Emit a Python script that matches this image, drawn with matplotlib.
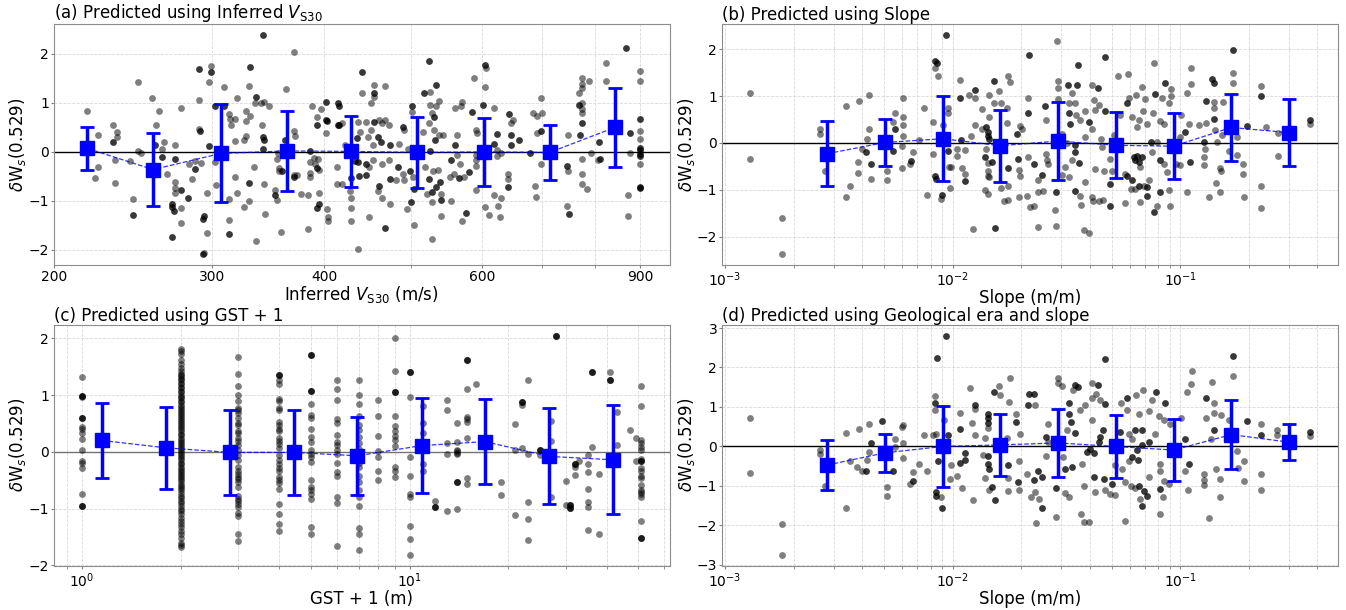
#!/usr/bin/env python3
"""4パネル残差プロット（δWs vs サイト指標）"""

import numpy as np
import matplotlib

matplotlib.use("Agg")
import matplotlib.pyplot as plt
from matplotlib.ticker import FixedLocator, FuncFormatter, MultipleLocator, NullFormatter

# ---- (a) Inferred VS30 ----
a_vs30 = [217.5, 224, 224, 222, 233, 235, 235, 234, 234, 248, 245, 248, 250, 243, 257, 262, 260, 265, 264, 273,
          267, 273, 273, 273, 277, 277, 277, 283, 287, 285, 290, 290, 292, 296, 296, 294, 299, 298, 302, 303,
          309, 313, 314, 315, 318, 318, 313, 313, 318, 320, 320, 326, 327, 327, 326, 327, 330, 331, 335, 336,
          343, 344, 334, 330, 340, 343, 347, 341, 370, 363, 355, 354, 356, 356, 353, 354, 358, 370, 371, 370,
          373, 377, 386, 386, 386, 390, 391, 394, 395, 395, 403, 404, 404, 384, 384, 388, 393, 397, 402, 413,
          413, 419, 419, 422, 427, 428, 428, 429, 436, 441, 436, 438,
          455, 455, 467, 451, 445, 460, 464, 468, 472, 451, 447, 453, 449, 453, 464, 472, 459, 464, 449, 474,
          481, 489, 491, 485, 491, 496, 501, 502, 495, 504, 524, 524, 527, 533, 537, 523, 515, 530, 537, 543,
          518, 529, 536, 521, 539, 527, 540, 527, 552, 553, 560, 569, 568, 562, 562, 567, 558, 572, 587, 590,
          592, 590, 590, 590, 590, 570, 605, 604, 618, 623, 623, 629, 604, 611, 618, 624, 630, 628, 649, 645,
          640, 640, 683, 690, 700, 697, 690, 698, 686, 688, 747, 747, 745, 769, 775, 775, 775, 775, 775, 775,
          774, 774, 774, 785, 789, 792, 807, 823, 823, 871, 871, 875, 900, 900, 900, 900, 900]
a_dws = [0.84, 0.34, -0.31, -0.53, 0.55, 0.41, 0.31, -0.17, -0.64, 1.42, -0.97, 0.01, -0.03, -0.19, 1.09, 0.83, 0.55,
         0.2, 0.05, 0.15, -0.46, -0.61, -0.73, -0.84, -1.15, -1.46, 0.89, -0.24, -0.18, -0.56, 1.05, 0.46, -0.23,
         -0.84, -1.66, -2.06, 1.75, 1.43, -0.21, -0.67, 1.32, 0.78, 0.67, 0.54, 0.67, 0.23, -0.97, -1.39, -0.52,
         1.1, -0.84, -1.12, 0.84, 0.64, 0.24, 0.32, 1.34, 0.73, 1.0, -1.82, -0.65, -1.26, -0.31, -1.0, 1.0, 1.02,
         0.94, 0.55, 2.04, 1.29, -0.03, -0.14, -0.32, -0.39, -0.78, -0.98, -1.63, 0.43, 0.33, -0.48, -0.48, -0.86,
         -0.21, -0.51, -0.43, -0.12, -0.25, -0.14, -0.36, -0.84, -1.17, -1.32, -1.4, -0.87, -1.58, 0.94, 0.71,
         0.87, 0.39, -0.3, -0.65, -0.66, 0.58, 0.14, -0.79, -0.94, -1.15, -1.41, -1.98, 1.2, 0.62, 0.4,
         1.36, 1.12, 1.34, 0.99, 0.62, 0.65, 0.58, 0.65, 0.55, 0.45, 0.31, 0.14, -0.31, -0.17, -0.24, -0.17, -0.79,
         -0.93, -1.32, -1.06, -0.58, -0.45, -0.58, 0.17, 0.45, 0.06, 0.82, -0.51, -1.17, -1.5, 1.22, 0.96, 0.79,
         0.93, 1.03, 0.58, 0.41, 0.45, 0.34, 0.34, -0.31, -0.38, -0.36, -0.86, -0.86, -1.02, -1.31, -1.77, -0.51,
         -1.01, 0.89, 1.02, 0.94, 0.34, -0.07, -0.24, -0.45, -0.51, 1.5, 0.45, 0.38, -0.07, -0.17, -0.29, -0.77,
         -1.4, 1.71, 1.32, 0.89, 0.03, -0.09, -0.03, -1.13, -1.28, -0.88, -1.1, -0.94, -1.32, 0.65, 0.58, -0.46,
         -0.56, 0.8, 0.73, 0.79, 1.11, 0.38, -0.24, -0.7, -0.92, 0.34, -0.39, -1.11, 1.2, 1.5, 1.39, 1.3, 0.99,
         0.87, 0.79, -0.15, -0.46, -0.66, -0.75, 1.45, -0.03, -0.17, 1.82, 1.45, -0.87, -1.3, -0.03, 1.65, 1.45,
         0.43, 0.27, -0.24]
# 重なって濃く見える点
a_vs30_dup = [233, 245, 259, 264, 273, 277, 271, 271, 272, 271, 282, 287, 290, 291, 294, 293, 293, 299, 298, 302,
              309, 313, 331, 336, 342, 342, 343, 342, 330, 362, 359, 353, 370, 386, 393, 395, 393, 393, 402, 402,
              403, 414, 415, 414, 416, 441, 435, 433, 436, 437, 429,
              455, 455, 459, 463, 474, 445, 445, 474, 460, 468, 483, 489, 501, 498, 500, 504, 523, 517, 533, 530,
              532, 525, 523, 538, 533, 527, 539, 553, 560, 565, 580, 585, 576, 604, 601, 623, 618, 643, 646, 646,
              659, 641, 678, 698, 745, 750, 775, 769, 771, 809, 811, 867, 876, 900, 900, 900, 900, 900, 900, 900]
a_dws_dup = [0.2, -1.28, 0.14, -0.1, -0.14, -0.77, -1.07, -1.13, -1.21, -1.73, -0.94, -0.35, 1.69, 0.43, -1.31,
             -1.36, -2.09, 1.63, 0.13, 0.93, 0.93, -1.68, 1.73, 1.13, 2.39, 0.31, 0.25, 0.05, -0.64, 0.24, -0.38,
             -0.88, -0.52, 0.02, -0.32, -1.06, -1.14, 0.54, 1.02, 0.65, 0.63, 1.0, 0.94, 0.54, 0.54, 1.63, 0.29,
             -0.19, -0.21, -0.5, -0.54,
             1.21, 0.62, 0.31, 0.21, 0.14, -0.24, -0.48, -0.55, -0.69, -1.56, -0.31, 0.51, 0.93, -0.38, -1.03,
             -0.75, 1.85, 1.2, 1.37, 0.72, 0.24, 0.01, -0.55, -0.62, -0.72, -0.82, -0.98, -0.17, 0.14, -0.53,
             -0.41, 0.82, -1.25, 1.78, 0.95, 0.36, 0.17, 0.78, 0.34, 0.14, 0.25, -0.71, -0.03, 0.43, -0.29, -1.26,
             0.6, 0.96, 0.35, 0.2, -0.14, 2.11, 0.38, 0.67, 0.09, 0.03, -0.05, -0.09, -0.71, -0.73]
a_bin_vs30 = [218, 258, 307, 364, 429, 508, 602, 713, 843]
a_bin_mean = [0.07, -0.36, -0.03, 0.02, 0.01, -0.01, 0.0, -0.01, 0.5]
a_bin_std = [0.44, 0.75, 1.0, 0.82, 0.73, 0.73, 0.69, 0.56, 0.8]

# ---- (b) Slope（log10で読み取り）----
b_logslope = [-2.891, -2.891, -2.75, -2.75, -2.584, -2.584, -2.562, -2.47, -2.41, -2.367, -2.468, -2.451, -2.417,
              -2.417, -2.397, -2.377, -2.367, -2.358, -2.288, -2.288, -2.264, -2.254, -2.223, -2.223, -2.216,
              -2.216, -2.216, -2.216, -2.187, -2.173, -2.147, -2.125, -2.113, -2.085, -2.079, -2.064, -2.085,
              -2.05, -2.044, -2.02, -2.02, -2.014, -2.006, -2.012, -1.967, -1.979, -1.979, -1.959, -1.945, -1.944,
              -1.927, -1.903, -1.872, -1.903, -1.918, -1.872, -1.853, -1.843, -1.845, -1.843, -1.838, -1.846,
              -1.856, -1.841, -1.816, -1.797, -1.788, -1.838, -1.762, -1.762, -1.758, -1.747, -1.787, -1.758,
              -1.772, -1.758, -1.912, -1.709, -1.702, -1.708, -1.703, -1.696, -1.67, -1.67, -1.672, -1.658,
              -1.539, -1.537, -1.537, -1.476, -1.59, -1.535, -1.49, -1.461, -1.458, -1.439, -1.417, -1.388, -1.38,
              -1.373, -1.358, -1.388, -1.417, -1.476, -1.498, -1.52, -1.505, -1.49, -1.52, -1.59, -1.586, -1.579,
              -1.623, -1.601, -1.626, -1.64, -1.626, -1.549, -1.546, -1.439, -1.436, -1.417, -1.424, -1.402,
              -1.388, -1.373, -1.383, -1.339, -1.358, -1.336, -1.344, -1.347, -1.3, -1.307, -1.292, -1.273,
              -1.229, -1.263, -1.226, -1.194, -1.211, -1.189, -1.182, -1.241, -1.175, -1.16, -1.138, -1.197,
              -1.216, -1.241, -1.175, -1.101, -1.167, -1.153, -1.163, -1.145, -1.113, -1.079, -1.05, -1.038,
              -1.038, -1.12, -1.087, -1.072, -1.101, -1.123, -1.072, -1.057, -1.05, -1.045, -1.02, -0.999, -0.994,
              -0.999, -0.969, -0.95, -0.95, -0.969, -0.962, -0.918, -0.896, -0.896, -0.891, -0.888, -0.874, -0.852,
              -0.852, -0.847, -0.837, -0.825, -0.822, -0.84, -0.825, -0.815, -0.812, -0.767, -0.767, -0.778,
              -0.786, -0.749, -0.749, -0.722, -0.722, -0.719, -0.646, -0.624, -0.646, -0.646, -0.568, -0.568,
              -0.429]
b_dws = [1.07, -0.34, -1.61, -2.38, 0.3, 0.19, -0.59, 0.79, 0.89, 1.03, -1.15, -0.93, -0.41, -0.64, -0.12, 0.09,
         0.3, -0.77, -0.59, -0.8, 0.44, 0.63, -0.07, -0.54, 0.97, 0.56, 0.39, 0.15, -0.44, -0.19, 0.06, 0.74, -1.11,
         0.44, 1.61, 1.43, -0.23, -1.19, 0.38, 0.75, 0.64, -0.52, -0.52, -0.96, 1.35, -0.12, -0.27, -0.53, -0.66,
         -0.16, 1.02, 0.97, 0.73, 0.38, 0.14, 0.29, -0.14, -0.43, -0.59, -0.7, -0.73, -1.1, -1.0, 1.02, 0.85, 1.11,
         0.85, 0.56, 0.74, 0.43, 1.43, 1.31, -0.97, -0.93, -1.25, -1.22, -1.84, -0.57, -0.7, -1.16, 0.37, 0.29,
         0.95, -0.3, -1.13, -1.37,
         2.18, 1.33, 1.17, 1.06, 0.49, 0.93, 0.85, 0.85, 0.59, 0.49, 0.69, 1.24, 0.92, 0.7, 0.81, 0.29, 0.13,
         -0.37, -0.01, 0.2, -0.52, -0.72, -0.69, -0.23, -0.37, -0.44, -0.8, -1.02, -1.05, -1.34, -1.79, -1.44,
         -1.77, -1.13, -1.33, -0.84, -1.87, -1.92, -1.16, -0.55, -1.24, -1.21, -1.24, -0.59, -0.09, 0.09, -0.59,
         -0.34, 0.16, 1.42, 1.47, 0.59, 0.97, 1.02, 0.56, 0.34, 0.49, -0.66, -0.52, -0.91, -0.8, -0.98, -0.98,
         -1.28, -1.27, -1.34, 1.2, 0.93, 0.69, 0.41, 1.7, 0.95, 0.86, 1.15, 1.0, 0.63, 0.47, 0.41, 0.02, -0.19,
         -0.44, -0.62, -1.0, -1.34, -0.44, -0.48, 0.59, 0.13, 1.07, 1.61, 1.25, -1.05, 0.41, 0.38, -0.3, -0.48,
         -0.14, 0.43, -1.16, 0.87, 0.74, 0.27, 0.02, -0.53, -0.6, -0.86, -1.05, 0.16, 0.87, 1.5, 1.29, 0.27,
         -0.18, 0.13, -0.25, -0.46, -0.66, -1.15, 1.22, 0.34, -0.93, -1.38, 0.21, -0.27, 0.41]
b_logslope_dup = [-2.379, -2.36, -2.264, -2.254, -2.182, -2.078, -2.07, -2.076, -2.073, -2.047, -2.031, -2.02,
                  -1.967, -1.963, -1.944, -1.903, -1.853, -1.846, -1.846, -1.841, -1.859, -1.827, -1.816, -1.755,
                  -1.813, -1.713, -1.718, -1.662, -1.67,
                  -1.493, -1.454, -1.449, -1.593, -1.49, -1.483, -1.363, -1.332, -1.332, -1.402, -1.461, -1.461,
                  -1.446, -1.64, -1.608, -1.546, -1.464, -1.307, -1.307, -1.233, -1.234, -1.211, -1.204, -1.197,
                  -1.189, -1.182, -1.167, -1.182, -1.145, -1.145, -1.116, -1.109, -1.068, -1.13, -1.087, -1.087,
                  -0.977, -0.955, -0.896, -0.888, -0.852, -0.859, -0.852, -0.767, -0.708, -0.646, -0.429]
b_dws_dup = [-0.2, -0.44, -0.18, 0.29, -0.39, 1.75, 1.71, -0.7, -0.76, -1.11, 2.31, -0.17, 0.96, 0.07, -0.82, 1.13,
             0.34, 0.24, 0.15, 0.09, -0.29, -0.4, 1.33, -0.53, -1.81, -0.35, 0.2, 1.88, 0.63,
             1.23, 1.23, 1.67, 0.79, 0.64, 0.41, 1.17, 1.83, 0.69, 0.45, -0.05, -0.19, -0.43, -0.44, -0.69, -1.04,
             -1.02, -1.34, -0.88, 0.85, -0.7, -0.8, -0.3, -0.37, -0.27, -0.41, -0.3, -0.91, -0.95, -1.13, -1.47,
             1.04, 1.28, 0.02, -0.37, -1.05, 0.24, -0.41, 0.02, 0.9, 0.52, 1.36, 1.28, 1.99, 0.36, 1.0, 0.5]
b_bin_slope = [0.00281, 0.00505, 0.00906, 0.0162, 0.0291, 0.0522, 0.0936, 0.168, 0.301]
b_bin_mean = [-0.23, 0.01, 0.09, -0.06, 0.04, -0.05, -0.07, 0.33, 0.22]
b_bin_std = [0.69, 0.5, 0.91, 0.77, 0.83, 0.7, 0.7, 0.71, 0.715]

# ---- (c) GST + 1（値ごとの縦列）----
c_gst1_levels = [1, 2, 3, 4, 5, 6, 7, 8, 9, 10, 11, 12, 13, 14, 15, 16, 19, 21, 22, 23, 25, 27, 28, 30, 31, 32,
                 33, 35, 36, 38, 41, 43, 47, 49, 51]
c_dws_by_level = [
    [1.32, 0.99, 0.96, 0.6, 0.44, 0.4, 0.33, 0.22, 0.03, -0.16, -0.2, -0.28, -0.74, -0.95],
    [1.81, 1.78, 1.73, 1.62, 1.55, 1.47, 1.42, 1.38, 1.35, 1.32, 1.29, 1.26, 1.22, 1.19, 1.15, 1.12, 1.08, 1.05,
     1.01, 0.97, 0.94, 0.9, 0.87, 0.83, 0.79, 0.76, 0.72, 0.69, 0.65, 0.61, 0.58, 0.54, 0.5, 0.47, 0.43, 0.4,
     0.36, 0.32, 0.29, 0.25, 0.21, 0.18, 0.14, 0.11, 0.07, 0.03, 0.0, -0.04, -0.08, -0.11, -0.15, -0.19, -0.22,
     -0.26, -0.3, -0.33, -0.37, -0.41, -0.45, -0.48, -0.52, -0.56, -0.6, -0.64, -0.68, -0.72, -0.77, -0.81,
     -0.86, -0.9, -0.95, -1.0, -1.05, -1.1, -1.16, -1.22, -1.28, -1.33, -1.4, -1.44, -1.52, -1.6, -1.64, -1.68],
    [1.68, 1.38, 1.16, 1.01, 0.89, 0.77, 0.73, 0.68, 0.6, 0.5, 0.47, 0.36, 0.33, 0.24, 0.19, 0.12, 0.04, -0.06,
     -0.15, -0.27, -0.33, -0.39, -0.44, -0.48, -0.54, -0.62, -0.77, -0.83, -0.86, -0.92, -0.98, -1.07, -1.13,
     -1.45, -1.58],
    [1.36, 1.27, 1.2, 0.93, 0.89, 0.77, 0.73, 0.53, 0.47, 0.4, 0.36, 0.24, 0.19, 0.13, 0.06, -0.06, -0.15, -0.21,
     -0.28, -0.33, -0.45, -0.49, -0.55, -0.65, -0.92, -1.09, -1.28, -1.39],
    [1.71, 1.07, 0.85, 0.65, 0.59, 0.4, 0.27, 0.18, 0.04, -0.03, -0.09, -0.18, -0.49, -0.62, -0.67, -0.74, -0.83,
     -1.32, -1.44],
    [1.27, 1.1, 0.92, 0.57, 0.5, 0.3, 0.18, 0.12, 0.03, -0.04, -0.2, -0.36, -0.42, -0.79, -0.9, -1.66],
    [1.26, 1.0, 0.85, 0.63, 0.47, 0.38, 0.27, 0.15, 0.05, -0.12, -0.2, -0.27, -0.42, -0.53, -0.68, -0.8, -0.95,
     -1.35, -1.44, -1.73],
    [0.92, 0.63, 0.28, 0.01, -0.09, -0.34, -0.5],
    [2.0, 1.42, 1.05, 0.63, 0.46, 0.36, 0.28, 0.2, 0.1, -0.27, -0.33, -0.45],
    [1.4, 0.97, -0.09, -0.42, -0.74, -0.8, -1.31, -1.54, -1.82],
    [0.8, 0.5, 0.34, -0.21, -0.33],
    [-0.87, -0.97],
    [0.92, 0.73, 0.15, -0.03, -1.05],
    [0.5, 0.18, 0.03, 0.01, -0.02, -0.04, -0.53, -1.01],
    [1.62, 1.1, 0.62, 0.57, 0.53, 0.24, -0.46, -0.57],
    [1.2],
    [-0.54, -0.76],
    [0.49, 0.04, -1.12],
    [0.88, 0.82, 0.07],
    [1.26, -0.04, -0.88, -1.18, -1.56],
    [0.04, -0.06],
    [0.54, 0.19, -0.06, -0.79],
    [2.05],
    [-0.52, -0.93],
    [-0.94, -0.99],
    [-0.21, -0.26, -0.4],
    [-0.16],
    [-0.06, -0.21, -0.36, -0.65, -0.89, -0.97, -1.38],
    [1.4, 0.09],
    [-0.39, -1.44],
    [1.4, 1.27],
    [0.7, 0.12],
    [0.38],
    [0.25, -0.16],
    [1.16, 0.8, 0.21, 0.15, 0.09, 0.04, -0.12, -0.16, -0.28, -0.33, -0.43, -0.46, -0.58, -0.68, -0.71, -0.75,
     -0.8, -1.22, -1.51],
]
c_gst1_dup = [1, 1, 1, 4, 5, 5, 9, 10, 12, 14, 15, 22, 25, 28, 31, 31, 32, 36, 41, 51, 51]
c_dws_dup = [0.99, 0.6, -0.95, 1.36, 1.71, 1.07, 1.05, 1.4, -0.97, -0.53, 1.62, 0.88, 0.04, 2.05, -0.94, -0.99,
             -0.21, 1.4, 1.27, -0.16, -1.51]
c_bin_gst1 = [1.15, 1.81, 2.82, 4.43, 6.92, 10.9, 17.0, 26.6, 41.7]
c_bin_mean = [0.2, 0.07, -0.01, -0.01, -0.07, 0.11, 0.18, -0.08, -0.14]
c_bin_std = [0.655, 0.72, 0.755, 0.75, 0.685, 0.83, 0.745, 0.845, 0.96]

# ---- (d) Geological era + slope ----
d_logslope = [-2.891, -2.891, -2.75, -2.75, -2.584, -2.584, -2.562, -2.47, -2.41, -2.367, -2.468, -2.449, -2.418,
              -2.397, -2.377, -2.367, -2.288, -2.288, -2.254, -2.254, -2.223, -2.216, -2.216, -2.216, -2.187,
              -2.173, -2.147, -2.125, -2.113, -2.079, -2.079, -2.085, -2.073, -2.05, -2.037, -2.007, -2.012,
              -1.966, -1.979, -1.959, -1.925, -1.903, -1.916, -1.901, -1.912, -1.868, -1.857, -1.843, -1.859,
              -1.841, -1.79, -1.797, -1.75, -1.747, -1.76, -1.758, -1.758, -1.721, -1.709, -1.709, -1.702, -1.674,
              -1.655,
              -1.537, -1.537, -1.52, -1.471, -1.388, -1.369, -1.388, -1.351, -1.42, -1.439, -1.498, -1.582, -1.582,
              -1.637, -1.388, -1.432, -1.513, -1.59, -1.637, -1.62, -1.505, -1.488, -1.546, -1.634, -1.435, -1.424,
              -1.402, -1.421, -1.373, -1.329, -1.307, -1.288, -1.288, -1.258, -1.233, -1.194, -1.163, -1.182,
              -1.226, -1.211, -1.226, -1.255, -1.241, -1.214, -1.197, -1.138, -1.175, -1.241, -1.138, -1.123,
              -1.094, -1.072, -1.043, -1.109, -1.087, -1.087, -1.072, -1.077, -1.09, -1.05, -0.994, -0.977, -0.966,
              -0.969, -0.95, -0.947, -0.888, -0.852, -0.852, -0.859, -0.862, -0.896, -0.896, -0.896, -0.874, -0.84,
              -0.825, -0.825, -0.822, -0.767, -0.786, -0.749, -0.746, -0.719, -0.719, -0.646, -0.646, -0.646,
              -0.573, -0.573, -0.429]
d_dws = [0.71, -0.67, -1.96, -2.75, -0.09, -0.19, -1.01, 0.35, 0.45, 0.58, -1.55, -0.36, -0.53, -0.61, -0.34,
         -0.13, -1.02, -1.26, 0.2, -0.02, 0.49, 0.55, 0.09, -0.3, -0.95, -0.65, -0.44, 0.28, -0.61, 1.28, 0.92,
         0.28, 0.31, -1.29, 0.66, -0.46, -0.82, 0.86, -0.74, -1.04, 1.49, 0.94, 0.6, 0.3, -1.36, -0.21, 0.22, 0.48,
         -0.8, -1.1, 1.3, 1.54, 1.13, 1.74, 0.21, -0.81, -1.12, 0.83, -1.1, -0.36, 0.32, -0.7, -1.29,
         1.73, 1.62, 1.53, 1.43, 1.62, 1.34, 1.22, 1.17, 1.06, 0.92, 0.41, 0.56, 0.11, 1.05, 0.66, -0.44, -0.27,
         -0.23, -1.16, -1.33, -1.19, -1.28, -1.79, -1.94, -1.72, -1.9, -1.91, -0.99, -1.16, -1.1, -1.21, -1.23,
         -0.46, 1.09, 0.92, 1.3, 1.43, 0.83, 0.32, 0.2, -0.36, -0.57, -0.91, -1.0, -1.04, -0.78, -1.33, -1.89, 0.9,
         1.17, 0.77, 0.66, 0.58, 0.32, -0.44, -0.61, -0.87, -1.29, -1.7, -0.95, 0.71, -0.61, -1.11, 1.39, 1.57,
         1.9, 0.71, 1.09, 0.85, 1.64, 0.2, -0.7, -0.85, -0.98, -1.82, -0.57, -0.82, -1.29, 0.79, 1.79, 0.66,
         -0.12, -0.54, -0.38, -0.88, 0.56, -0.7, -1.1, 0.41, 0.28, 0.26]
d_logslope_dup = [-2.379, -2.358, -2.31, -2.264, -2.176, -2.078, -2.07, -2.064, -2.073, -2.073, -2.047, -2.031,
                  -2.02, -1.966, -1.966, -1.945, -1.944, -1.903, -1.846, -1.846, -1.846, -1.846, -1.846, -1.838,
                  -1.827, -1.813, -1.816, -1.758, -1.721, -1.713, -1.67, -1.662,
                  -1.461, -1.449, -1.332, -1.363, -1.332, -1.49, -1.49, -1.479, -1.461, -1.59, -1.64, -1.341,
                  -1.351, -1.358, -1.395, -1.41, -1.38, -1.476, -1.505, -1.623, -1.64, -1.608, -1.605, -1.546,
                  -1.38, -1.336, -1.3, -1.233, -1.263, -1.2, -1.167, -1.189, -1.211, -1.185, -1.167, -1.182,
                  -1.16, -1.145, -1.167, -1.106, -1.068, -1.138, -1.087, -0.977, -0.962, -0.888, -0.852, -0.767,
                  -0.708, -0.643, -0.429]
d_dws_dup = [-0.61, 0.09, 0.64, -0.61, -0.87, 1.11, 2.23, -0.37, -1.16, -1.25, -1.56, 2.81, 0.3, 0.45, -0.43,
             -0.34, -0.17, 1.05, 0.83, 0.71, 0.6, -0.23, -0.44, -0.57, -1.02, -1.35, 1.39, -0.48, 0.62, -0.91,
             1.05, 1.34,
             1.56, 1.51, 2.22, 1.56, 1.07, 1.09, 0.83, 0.62, 0.34, 0.24, 1.34, 0.41, 0.24, 0.11, -0.06, -0.14,
             -0.17, -0.53, -0.57, -0.61, -0.85, -0.78, -1.57, -1.06, -0.78, -0.82, -0.95, 1.23, 0.37, 0.41, 0.41,
             -0.1, -0.27, -0.34, 0.03, -0.99, -1.12, -1.25, -1.5, 1.39, 1.09, 0.11, -1.08, 0.2, -0.44, 1.23, 0.43,
             2.28, 0.64, 0.3, 0.37]
d_bin_slope = [0.00281, 0.00505, 0.00906, 0.0162, 0.0291, 0.0522, 0.0936, 0.168, 0.301]
d_bin_mean = [-0.47, -0.16, 0.0, 0.04, 0.09, 0.0, -0.09, 0.3, 0.11]
d_bin_std = [0.625, 0.485, 1.015, 0.79, 0.86, 0.79, 0.785, 0.87, 0.46]

YLABEL = r"$\delta$W$_s$(0.529)"
FS = 12


def draw_panel(ax, x, y, x_dup, y_dup, bin_x, bin_mean, bin_std, title, xlabel, zero_color="k"):
    """散布図＋ビン平均±標準偏差を描く"""
    ax.set_xscale("log")
    ax.grid(True, which="both", color="0.85", linestyle="--", linewidth=0.6)
    ax.set_axisbelow(True)
    ax.axhline(0, color=zero_color, linewidth=1.0, zorder=1)
    ax.scatter(x, y, s=24, c="k", alpha=0.5, linewidths=0, zorder=2)
    ax.scatter(x_dup, y_dup, s=24, c="k", alpha=0.78, linewidths=0, zorder=2)

    # ビン平均
    ax.plot(bin_x, bin_mean, "--", color="b", linewidth=0.9, alpha=0.8, zorder=3)
    ax.errorbar(bin_x, bin_mean, yerr=bin_std, fmt="s", color="b", markersize=10,
                elinewidth=2.5, capsize=5, capthick=2, zorder=4)

    ax.yaxis.set_major_locator(MultipleLocator(1))
    ax.set_title(title, loc="left", fontsize=FS, pad=2)
    ax.set_xlabel(xlabel, fontsize=FS, labelpad=0)
    ax.set_ylabel(YLABEL, fontsize=FS, labelpad=0)
    ax.tick_params(which="both", labelsize=10, length=2, pad=1.5, color="0.5")
    for sp in ax.spines.values():
        sp.set_color("0.55")


def main():
    fig, axes = plt.subplots(2, 2, figsize=(13.46, 6.10), dpi=100)
    fig.subplots_adjust(left=0.040, right=0.994, bottom=0.072, top=0.961, wspace=0.085, hspace=0.245)
    (ax_a, ax_b), (ax_c, ax_d) = axes

    # (a)
    draw_panel(ax_a, a_vs30, a_dws, a_vs30_dup, a_dws_dup, a_bin_vs30, a_bin_mean, a_bin_std,
               r"(a) Predicted using Inferred $V_{\mathrm{S30}}$", r"Inferred $V_{\mathrm{S30}}$ (m/s)")
    ax_a.set_xlim(200, 970)
    ax_a.xaxis.set_major_locator(FixedLocator([200, 300, 400, 600, 900]))
    ax_a.xaxis.set_major_formatter(FuncFormatter(lambda v, p: f"{v:.0f}"))
    ax_a.xaxis.set_minor_locator(FixedLocator([500, 700, 800]))
    ax_a.xaxis.set_minor_formatter(NullFormatter())

    # (b)
    draw_panel(ax_b, 10 ** np.array(b_logslope), b_dws, 10 ** np.array(b_logslope_dup), b_dws_dup,
               b_bin_slope, b_bin_mean, b_bin_std, "(b) Predicted using Slope", "Slope (m/m)")
    ax_b.set_xlim(0.00097, 0.494)

    # (c)
    c_x = [lv for lv, vals in zip(c_gst1_levels, c_dws_by_level) for _ in vals]
    c_y = [v for vals in c_dws_by_level for v in vals]
    draw_panel(ax_c, c_x, c_y, c_gst1_dup, c_dws_dup, c_bin_gst1, c_bin_mean, c_bin_std,
               "(c) Predicted using GST + 1", "GST + 1 (m)", zero_color="0.45")
    ax_c.set_xlim(0.82, 62.3)

    # (d)
    draw_panel(ax_d, 10 ** np.array(d_logslope), d_dws, 10 ** np.array(d_logslope_dup), d_dws_dup,
               d_bin_slope, d_bin_mean, d_bin_std, "(d) Predicted using Geological era and slope", "Slope (m/m)")
    ax_d.set_xlim(0.00097, 0.494)

    fig.savefig("out.png", dpi=100)
    plt.close(fig)


if __name__ == "__main__":
    main()
